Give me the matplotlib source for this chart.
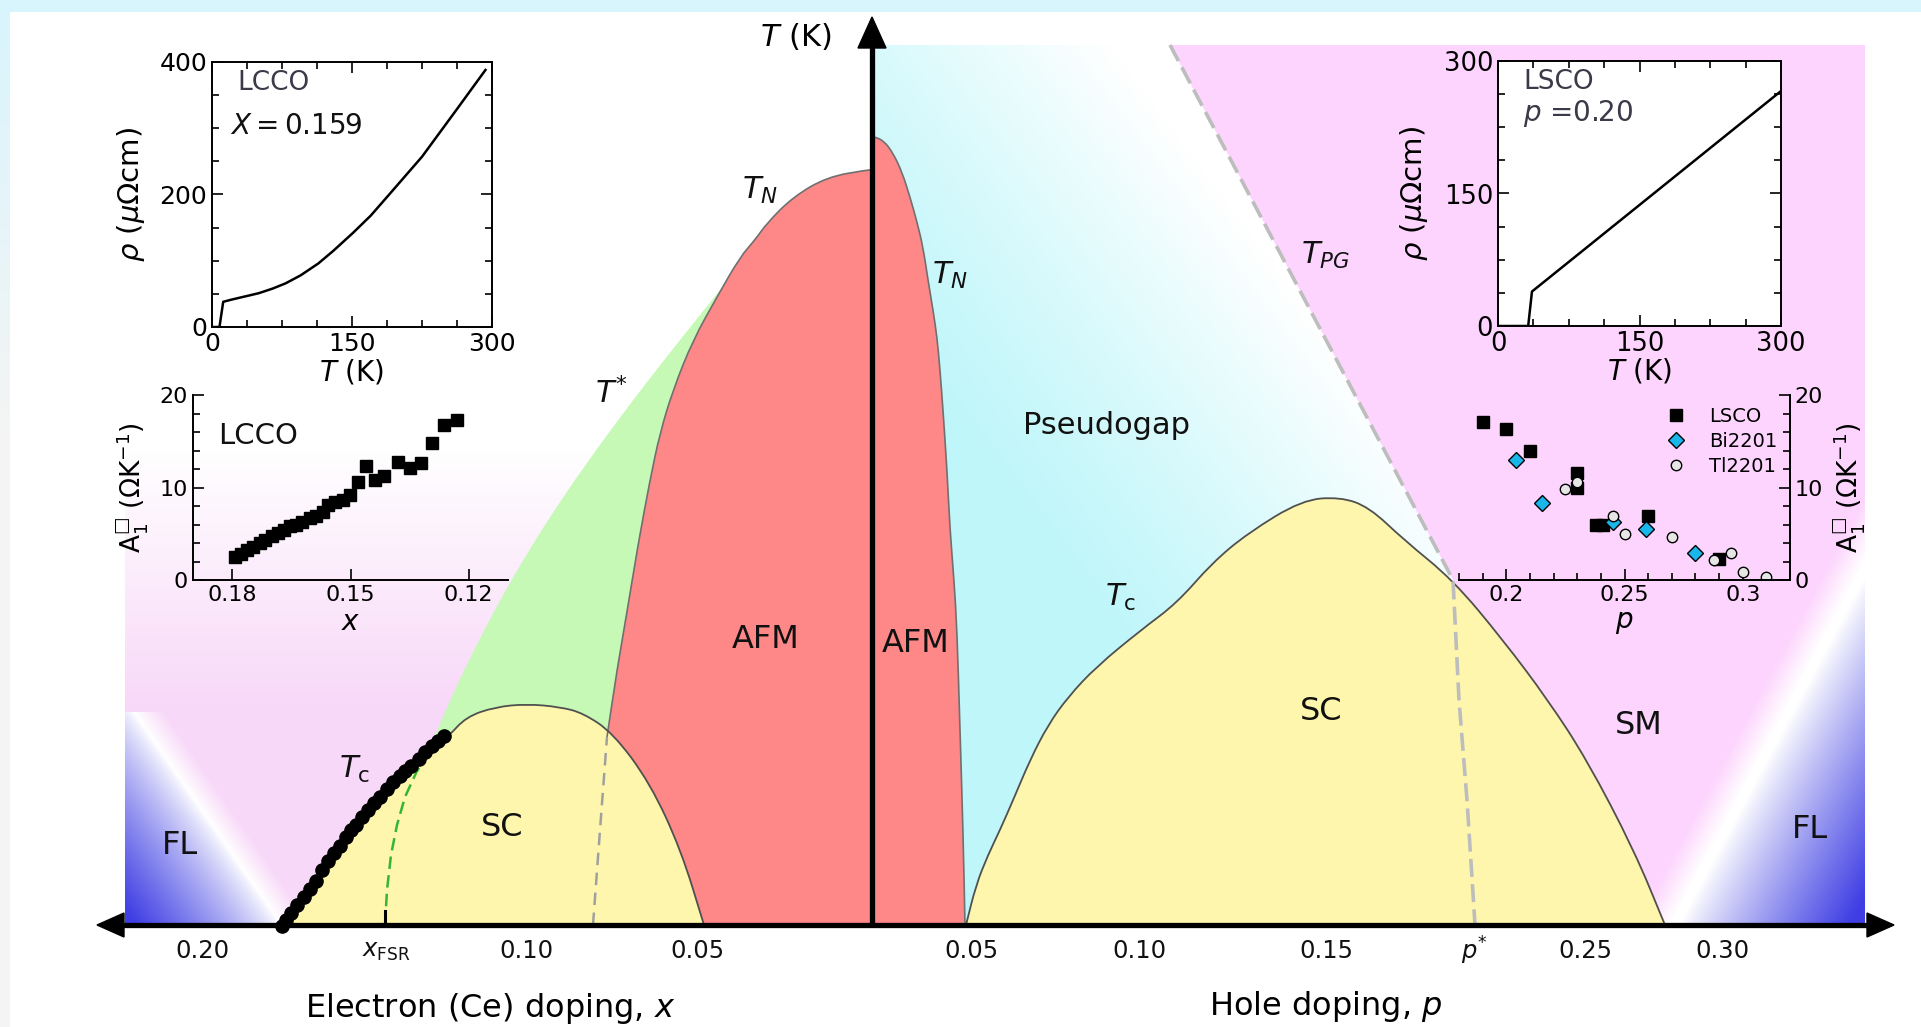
import numpy as np
import matplotlib.pyplot as plt
from matplotlib.patches import Polygon, PathPatch
from matplotlib.path import Path
from matplotlib.ticker import MultipleLocator

W, H = 1921, 1027

# ---------------- schematic phase diagram (drawing units, y grows downward) ----------------
# electron-doped side: Neel line (bottom -> top), T* line, SC dome, measured Tc points
afm_e_x = [593, 600, 607, 617, 627, 638, 650, 660, 673, 693, 717, 740, 755, 767, 793, 827, 867, 872]
afm_e_y = [925, 830, 737, 670, 612, 545, 480, 433, 390, 340, 297, 257, 240, 223, 197, 177, 170, 170]
tstar_x = [425, 450, 474, 500, 529, 561, 596, 633, 672, 712, 744, 755]
tstar_y = [760, 700, 650, 600, 550, 500, 450, 400, 350, 300, 260, 240]
sc_e_x = [282, 300, 316, 334, 356, 380, 405, 429, 448, 466, 495, 527, 560, 583, 613, 650, 681, 704]
sc_e_y = [925, 900, 880, 853, 820, 793, 770, 750, 737, 717, 707, 704, 707, 713, 733, 783, 850, 925]
tc_e_x = [282, 286, 291, 297, 304, 310, 316, 322, 328, 334, 340, 346, 351, 356, 362,
          368, 374, 380, 387, 393, 400, 405, 411, 419, 425, 432, 438, 444]
tc_e_y = [926, 920, 913, 905, 897, 889, 881, 870, 861, 853, 846, 837, 830, 825, 817,
          810, 803, 797, 789, 782, 776, 771, 766, 759, 752, 746, 741, 736]
fsr_x = [385, 387, 391, 397, 405, 416, 428]
fsr_y = [925, 890, 855, 825, 797, 773, 752]

# hole-doped side: Neel line, SC dome, pseudogap line T_PG ending at p*
afm_h_x = [872, 875, 884, 893, 902, 910, 917, 923, 928, 933, 937, 940, 943, 947, 950, 954, 957, 960, 963, 965]
afm_h_y = [137, 137, 141, 153, 172, 197, 222, 247, 280, 310, 337, 370, 410, 470, 530, 580, 630, 730, 830, 925]
sc_h_x = [966, 976, 988, 1000, 1014, 1030, 1048, 1068, 1096, 1141, 1177, 1212, 1248, 1302, 1340,
          1369, 1404, 1453, 1503, 1548, 1587, 1634, 1665]
sc_h_y = [925, 885, 855, 830, 798, 760, 725, 697, 667, 630, 603, 563, 533, 500, 497,
          507, 540, 580, 640, 700, 760, 850, 925]
pg_x = [1170, 1453, 1459, 1467, 1475]
pg_y = [45, 580, 700, 800, 925]

e_tick_pos = [202, 386, 526, 697]
e_tick_lab = ['0.20', r'$x_{\mathrm{FSR}}$', '0.10', '0.05']
h_tick_pos = [971, 1139, 1326, 1474, 1585, 1722]
h_tick_lab = ['0.05', '0.10', '0.15', r'$p^{*}$', '0.25', '0.30']

# ---------------- inset data ----------------
lcco_T = [0, 8, 12, 20, 35, 50, 65, 79, 95, 114, 130, 151, 170, 188, 225, 262, 293]
lcco_rho = [0, 0, 38, 41, 46, 51, 58, 66, 78, 96, 115, 142, 168, 197, 257, 328, 388]
lsco_T = [0, 32, 36, 300]
lsco_rho = [0, 0, 39, 266]

lcco_x = [0.1793, 0.1778, 0.1763, 0.1747, 0.1731, 0.1716, 0.1700, 0.1685, 0.1669, 0.1654,
          0.1638, 0.1623, 0.1602, 0.1587, 0.1571, 0.1556, 0.1540, 0.1519, 0.1502, 0.1480,
          0.1460, 0.1439, 0.1414, 0.1380, 0.1349, 0.1320, 0.1292, 0.1262, 0.1230]
lcco_A = [2.5, 2.8, 3.2, 3.6, 4.0, 4.3, 4.8, 5.1, 5.4, 5.8,
          6.0, 6.3, 6.7, 6.9, 7.4, 8.1, 8.4, 8.7, 9.2, 10.6,
          12.3, 10.8, 11.2, 12.8, 12.1, 12.6, 14.8, 16.8, 17.3]

lsco_p = [0.19, 0.20, 0.21, 0.23, 0.23, 0.238, 0.241, 0.26, 0.29]
lsco_A = [17.1, 16.3, 14.0, 11.6, 10.0, 6.0, 6.0, 6.9, 2.3]
bi_p = [0.204, 0.215, 0.245, 0.259, 0.28]
bi_A = [13.0, 8.3, 6.3, 5.5, 2.9]
tl_p = [0.225, 0.23, 0.245, 0.25, 0.27, 0.288, 0.295, 0.30, 0.31]
tl_A = [9.8, 10.6, 6.9, 5.0, 4.7, 2.2, 2.9, 0.9, 0.3]

# ---------------- colours ----------------
WHITE = np.array([1.0, 1.0, 1.0])
PINK_L = np.array([248, 216, 248]) / 255
PINK_R = np.array([253, 212, 253]) / 255
CYAN = np.array([190, 246, 250]) / 255
BLUE = np.array([62, 62, 228]) / 255
FRAME = np.array([216, 245, 253]) / 255
GREY = np.array([244, 244, 244]) / 255
RED = '#fe8787'
GREEN = '#c6f9b6'
YELLOW = '#fff6ad'

fig = plt.figure(figsize=(W / 100, H / 100), dpi=100)
ax = fig.add_axes([0, 0, 1, 1])
ax.set_xlim(0, W)
ax.set_ylim(H, 0)
ax.axis('off')


def mix(c1, c2, t):
    return c1 + (c2 - c1) * np.clip(t, 0, 1)[..., None]


def shade(px, py, colour_fn, z):
    x0, x1 = int(np.floor(min(px))), int(np.ceil(max(px)))
    y0, y1 = int(np.floor(min(py))), int(np.ceil(max(py)))
    X, Y = np.meshgrid(np.arange(x0, x1) + 0.5, np.arange(y0, y1) + 0.5)
    im = ax.imshow(np.clip(colour_fn(X, Y), 0, 1), extent=(x0, x1, y1, y0), origin='upper',
                   interpolation='bilinear', zorder=z)
    clip = Polygon(np.column_stack([px, py]), closed=True, fc='none', ec='none')
    ax.add_patch(clip)
    im.set_clip_path(clip)


def smooth_verts(xs, ys):
    # quadratic Bezier through midpoints, using the listed points as controls
    pts = np.column_stack([xs, ys]).astype(float)
    verts = [pts[0], (pts[0] + pts[1]) / 2]
    codes = [Path.MOVETO, Path.LINETO]
    for i in range(1, len(pts) - 1):
        verts += [pts[i], (pts[i] + pts[i + 1]) / 2]
        codes += [Path.CURVE3, Path.CURVE3]
    verts.append(pts[-1])
    codes.append(Path.LINETO)
    return verts, codes


def build_path(pieces, close=True):
    verts, codes = [], []
    for xs, ys, smooth in pieces:
        if smooth:
            v, c = smooth_verts(xs, ys)
        else:
            v = [np.array(p, float) for p in zip(xs, ys)]
            c = [Path.LINETO] * len(v)
        if verts:
            c = [Path.LINETO] + c[1:]
        verts += v
        codes += c
    codes[0] = Path.MOVETO
    if close:
        verts.append(verts[0])
        codes.append(Path.CLOSEPOLY)
    return Path(verts, codes)


def fill(pieces, colour, z):
    ax.add_patch(PathPatch(build_path(pieces), fc=colour, ec='none', zorder=z))


def curve(xs, ys, z=5, **kw):
    ax.add_patch(PathPatch(build_path([(xs, ys, True)], close=False), fc='none', zorder=z, **kw))


def left_colour(X, Y):
    col = mix(WHITE, PINK_L, (Y - 450) / 260)
    s = (X - 132) * 0.82 - (Y - 710) * 0.57
    fl = np.where((s < 0)[..., None],
                  mix(WHITE, BLUE, np.clip(-s / 120, 0, 1) ** 0.8),
                  mix(WHITE, PINK_L, s / 25))
    return np.where((Y >= 712)[..., None], fl, col)


def right_colour(X, Y):
    s = (X - 1670) * 0.88 + (Y - 925) * 0.47
    col = mix(PINK_R, WHITE, (s + 30) / 30)
    return mix(col, BLUE, np.clip((s - 8) / 150, 0, 1) ** 0.9)


def cyan_colour(X, Y):
    t = np.clip(((X - 1000) * 0.8 - (Y - 500) * 0.6) / 360, 0, 1) ** 1.2
    return mix(CYAN, WHITE, t)


# page frame
shade([0, W, W, 0], [0, 0, 12, 12], lambda X, Y: mix(FRAME, FRAME, X * 0), 0)
shade([0, 10, 10, 0], [0, 0, H, H], lambda X, Y: mix(FRAME, GREY, Y / 430), 0)

# background regions
shade([125, 872, 872, 125], [440, 440, 925, 925], left_colour, 1)
shade([872] + pg_x + [872], [45] + pg_y + [925], cyan_colour, 1)
shade(pg_x + [1865, 1865], pg_y + [925, 45], right_colour, 1)

# T* (green), AFM (red) and SC (yellow) regions
j = afm_e_y.index(240)
fill([(tstar_x, tstar_y, True), (afm_e_x[j::-1], afm_e_y[j::-1], True),
      ([tstar_x[0]], [925], False)], GREEN, 2)
fill([(afm_e_x, afm_e_y, True), ([872], [925], False)], RED, 3)
fill([(afm_h_x, afm_h_y, True), ([872], [925], False)], RED, 3)
fill([(sc_e_x, sc_e_y, True)], YELLOW, 4)
fill([(sc_h_x, sc_h_y, True)], YELLOW, 4)

# boundary lines
curve(afm_e_x[2:], afm_e_y[2:], color='#707070', lw=1.2)
ax.plot(afm_e_x[:3], afm_e_y[:3], color='#a0a0a0', lw=1.8, dashes=(5, 3), zorder=5)
curve(afm_h_x, afm_h_y, color='#707070', lw=1.2)
curve(sc_e_x, sc_e_y, color='#505050', lw=1.3)
curve(sc_h_x, sc_h_y, color='#505050', lw=1.3)
ax.plot(pg_x, pg_y, color='#bdbdbd', lw=2.6, dashes=(5, 2), zorder=5)
ax.plot(fsr_x, fsr_y, color='#35b535', lw=1.8, dashes=(5, 2.5), zorder=5)
ax.plot(tc_e_x, tc_e_y, 'o', color='k', ms=9.5, zorder=7)

# axes arrows
ax.plot([115, 1870], [925, 925], color='k', lw=3.8, solid_capstyle='butt', zorder=6)
ax.plot([872, 872], [925, 40], color='k', lw=3.8, solid_capstyle='butt', zorder=6)
for tri in ([(97, 925), (124, 913), (124, 937)],
            [(1894, 925), (1867, 913), (1867, 937)],
            [(872, 17), (858, 48), (886, 48)]):
    ax.add_patch(Polygon(tri, closed=True, fc='k', ec='k', zorder=6))
ax.plot([385, 385], [911, 925], color='k', lw=2.2, zorder=6)

# axis labels
for pos, lab in zip(e_tick_pos + h_tick_pos, e_tick_lab + h_tick_lab):
    ax.text(pos, 951, lab, ha='center', va='center', fontsize=17.5, color='#111111', zorder=8)
ax.text(490, 1008, r'Electron (Ce) doping, $x$', ha='center', va='center', fontsize=23, zorder=8)
ax.text(1326, 1006, r'Hole doping, $p$', ha='center', va='center', fontsize=23, zorder=8)
ax.text(796, 37, r'$T$ (K)', ha='center', va='center', fontsize=22, zorder=8)

# region and line labels
region_text = ['AFM', 'AFM', 'SC', 'SC', 'FL', 'FL', 'SM', 'Pseudogap',
               r'$T_N$', r'$T_N$', r'$T^{*}$', r'$T_{\mathrm{c}}$', r'$T_{\mathrm{c}}$', r'$T_{PG}$']
region_x = [766, 916, 502, 1321, 180, 1810, 1639, 1106, 760, 950, 611, 355, 1121, 1326]
region_y = [640, 643, 827, 711, 845, 829, 726, 426, 190, 275, 393, 769, 597, 255]
region_size = [23, 23, 23, 23, 23, 23, 23, 22, 22, 22, 22, 22, 22, 22]
for t, x, y, s in zip(region_text, region_x, region_y, region_size):
    ax.text(x, y, t, ha='center', va='center', fontsize=s, color='#111111', zorder=8)

ax.set_xlim(0, W)
ax.set_ylim(H, 0)
ax.set_aspect('auto')


# ---------------- insets ----------------
def fig_box(left, top, right, bottom):
    return [left / W, 1 - bottom / H, (right - left) / W, (bottom - top) / H]


def style(a, labelsize):
    a.tick_params(which='both', direction='in', labelsize=labelsize, width=1.2, color='k')
    a.tick_params(which='major', length=8)
    a.tick_params(which='minor', length=5)
    for sp in a.spines.values():
        sp.set_linewidth(1.4)


# LCCO resistivity
a1 = fig.add_axes(fig_box(212, 62, 492, 327))
a1.set_facecolor('none')
a1.plot(lcco_T, lcco_rho, color='k', lw=1.8)
a1.set_xlim(0, 300)
a1.set_ylim(0, 400)
a1.set_xticks([0, 150, 300])
a1.set_yticks([0, 200, 400])
a1.xaxis.set_minor_locator(MultipleLocator(37.5))
a1.yaxis.set_minor_locator(MultipleLocator(50))
style(a1, 18)
a1.tick_params(which='both', top=True, right=True)
a1.set_xlabel(r'$T$ (K)', fontsize=20, labelpad=1)
a1.set_ylabel(r'$\rho$ ($\mu\Omega$cm)', fontsize=21, labelpad=9)
a1.text(0.09, 0.92, 'LCCO', transform=a1.transAxes, fontsize=19, color='#3a3a48', va='center')
a1.text(0.065, 0.76, r'$X = 0.159$', transform=a1.transAxes, fontsize=20, color='#111111', va='center')

# LSCO resistivity
a3 = fig.add_axes(fig_box(1498, 61, 1781, 326))
a3.set_facecolor('white')
a3.plot(lsco_T, lsco_rho, color='k', lw=1.8)
a3.set_xlim(0, 300)
a3.set_ylim(0, 300)
a3.set_xticks([0, 150, 300])
a3.set_yticks([0, 150, 300])
a3.xaxis.set_minor_locator(MultipleLocator(37.5))
a3.yaxis.set_minor_locator(MultipleLocator(37.5))
style(a3, 18.5)
a3.tick_params(which='both', top=True, right=True)
a3.set_xlabel(r'$T$ (K)', fontsize=20, labelpad=0)
a3.set_ylabel(r'$\rho$ ($\mu\Omega$cm)', fontsize=21, labelpad=10)
a3.text(0.088, 0.92, 'LSCO', transform=a3.transAxes, fontsize=19, color='#3a3a48', va='center')
a3.text(0.088, 0.80, r'$p$ =0.20', transform=a3.transAxes, fontsize=20, color='#3a3a48', va='center')

A_LABEL = 'A$_1^{\u25a1}$ ($\\Omega$K$^{-1}$)'

# LCCO A1 coefficient
a2 = fig.add_axes(fig_box(193, 395, 508, 580))
a2.set_facecolor('none')
a2.plot(lcco_x, lcco_A, 's', color='k', ms=8.5)
a2.set_xlim(0.19, 0.11)
a2.set_ylim(0, 20)
a2.set_xticks([0.18, 0.15, 0.12])
a2.set_xticklabels(['0.18', '0.15', '0.12'])
a2.set_yticks([0, 10, 20])
a2.yaxis.set_minor_locator(MultipleLocator(2))
a2.spines['top'].set_visible(False)
a2.spines['right'].set_visible(False)
style(a2, 16)
a2.set_xlabel(r'$x$', fontsize=20, labelpad=2)
a2.set_ylabel(A_LABEL, fontsize=19, labelpad=6)
a2.text(0.08, 0.78, 'LCCO', transform=a2.transAxes, fontsize=21, color='#111111', va='center')

# hole-doped A1 coefficient
a4 = fig.add_axes(fig_box(1459, 395, 1790, 580))
a4.set_facecolor('none')
a4.plot(lsco_p, lsco_A, 's', color='k', ms=8.5, label='LSCO')
a4.plot(bi_p, bi_A, 'D', mfc='#19b6ea', mec='k', mew=1.0, ms=8.5, label='Bi2201')
a4.plot(tl_p, tl_A, 'o', mfc='#e6e6e6', mec='k', mew=1.0, ms=7.5, label='Tl2201')
a4.set_xlim(0.18, 0.32)
a4.set_ylim(0, 20)
a4.set_xticks([0.2, 0.25, 0.3])
a4.set_xticklabels(['0.2', '0.25', '0.3'])
a4.xaxis.set_minor_locator(MultipleLocator(0.01))
a4.set_yticks([0, 10, 20])
a4.yaxis.set_minor_locator(MultipleLocator(2))
a4.yaxis.tick_right()
a4.yaxis.set_label_position('right')
a4.spines['top'].set_visible(False)
a4.spines['left'].set_visible(False)
style(a4, 16)
a4.tick_params(which='both', left=False, right=True)
a4.set_xlabel(r'$p$', fontsize=20, labelpad=2)
a4.set_ylabel(A_LABEL, fontsize=19, labelpad=6)
a4.legend(loc='upper left', bbox_to_anchor=(0.545, 1.03), frameon=False, fontsize=14,
          numpoints=1, labelspacing=0.3, handletextpad=0.7)

fig.savefig('out.png', dpi=100, facecolor='white')
